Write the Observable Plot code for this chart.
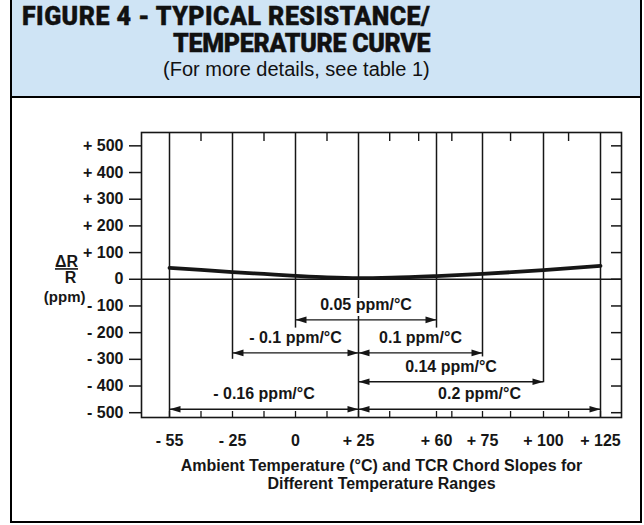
<!DOCTYPE html>
<html><head><meta charset="utf-8">
<script src="https://cdn.jsdelivr.net/npm/d3@7"></script>
<script src="https://cdn.jsdelivr.net/npm/@observablehq/plot@0.6"></script>
<style>
html,body{margin:0;padding:0;background:#fff;}
#fig{position:relative;width:644px;height:525px;overflow:hidden;font-family:"Liberation Sans",Arial,Helvetica,sans-serif;}
#titlebox{position:absolute;left:10px;top:0;width:628px;height:96px;background:#cfe4f5;border-left:2px solid #000;border-right:2px solid #000;border-bottom:2px solid #000;}
.t{position:absolute;white-space:nowrap;color:#111;}
.t1,.t2{font-family:Roboto,"Liberation Sans",sans-serif;font-weight:900;font-size:25px;line-height:25px;-webkit-text-stroke:0.4px #111;}
.t1{left:10px;top:4px;letter-spacing:0.45px;}
.t2{left:161px;top:31px;letter-spacing:-0.3px;}
.t3{left:151px;top:59px;font-size:20px;line-height:20px;font-weight:normal;}
#chart{position:absolute;left:0;top:98px;}
#box{position:absolute;left:10px;top:98px;width:628px;height:423px;border-left:2px solid #000;border-right:2px solid #000;border-bottom:2px solid #000;pointer-events:none;}
</style>
</head>
<body>
<div id="fig">
  <div id="titlebox">
    <div class="t t1">FIGURE 4 - TYPICAL RESISTANCE/</div>
    <div class="t t2">TEMPERATURE CURVE</div>
    <div class="t t3">(For more details, see table 1)</div>
  </div>
  <div id="chart"></div>
  <div id="box"></div>
</div>
<script>
// ---- data ----
const xKnots = [-55, -25, 0, 25, 60, 75, 100, 125];
const xTickLabels = ["- 55", "- 25", "0", "+ 25", "+ 60", "+ 75", "+ 100", "+ 125"];
const lineBottom = [-518, -300, -183, -518, -183, -291, -388, -518];

const yTicks = [500, 400, 300, 200, 100, 0, -100, -200, -300, -400, -500];
const yTickLabels = ["+ 500", "+ 400", "+ 300", "+ 200", "+ 100", "0", "- 100", "- 200", "- 300", "- 400", "- 500"];

const topMinorTicks = [-40, -12.5, 12.5, 39, 52, 65, 86.5, 111];
const bottomMinorTicks = [-40, -12.5, 12.5, 39, 65, 86.5, 111];

const curveT = [-55, -40, -25, -12.5, 0, 12.5, 25, 40, 60, 75, 100, 125];
const curveR = [43, 35, 27, 20, 13, 7, 4, 6, 12, 20, 34, 50];

const slopeText = ["0.05 ppm/°C", "- 0.1 ppm/°C", "0.1 ppm/°C", "0.14 ppm/°C", "- 0.16 ppm/°C", "0.2 ppm/°C"];
const slopeFrom = [0, -25, 25, 25, -55, 25];
const slopeTo = [60, 25, 75, 100, 25, 125];
const slopeRow = [-152, -276, -276, -384, -487, -487];

const axisTitle = "Ambient Temperature (°C) and TCR Chord Slopes for\nDifferent Temperature Ranges";

// ---- layout ----
const W = 644, H = 427, mL = 141, mR = 23, mT = 34, mB = 108;
const innerW = W - mL - mR, innerH = H - mT - mB;
const yDomain = [-518, 550];
// the original drawing spaces the temperatures unevenly: piecewise-linear scale
const xScaleOpts = {type: "linear", domain: xKnots, range: [169, 232, 295, 358, 436, 482, 543, 600]};
const xs = Plot.scale({x: xScaleOpts});
const mid = (a, b) => xs.invert((xs.apply(a) + xs.apply(b)) / 2);

const xLabelMap = new Map(xKnots.map((t, i) => [t, xTickLabels[i]]));
const yLabelMap = new Map(yTicks.map((v, i) => [v, yTickLabels[i]]));
const verticals = xKnots.map((t, i) => ({t, bottom: lineBottom[i]}));
const curve = curveT.map((t, i) => ({t, r: curveR[i]}));
const slopes = slopeText.map((s, i) => ({text: s, from: slopeFrom[i], to: slopeTo[i], y: slopeRow[i], mid: mid(slopeFrom[i], slopeTo[i])}));

const headR = {draw(ctx, size) { const l = Math.sqrt(size / Math.PI) * 2, w = l * 0.3; ctx.moveTo(0, 0); ctx.lineTo(-l, -w); ctx.lineTo(-l, w); ctx.closePath(); }};
const headL = {draw(ctx, size) { const l = Math.sqrt(size / Math.PI) * 2, w = l * 0.3; ctx.moveTo(0, 0); ctx.lineTo(l, -w); ctx.lineTo(l, w); ctx.closePath(); }};

const ink = "#161616";
const chart = Plot.plot({
  width: W, height: H,
  marginLeft: mL, marginRight: mR, marginTop: mT, marginBottom: mB,
  x: xScaleOpts,
  y: {domain: yDomain},
  style: {fontFamily: "'Liberation Sans', Arial, Helvetica, sans-serif", fontSize: "16px", fontWeight: "bold", color: ink, background: "transparent", overflow: "visible"},
  marks: [
    Plot.frame({stroke: ink, strokeWidth: 1.6}),
    Plot.ruleY([0], {stroke: ink, strokeWidth: 1.5}),
    Plot.axisY({anchor: "left", ticks: yTicks, tickFormat: d => yLabelMap.get(d), tickSize: 12, tickPadding: 6, label: null, strokeWidth: 1.5}),
    Plot.tickY(yTicks, {y: d => d, insetLeft: innerW - 10, stroke: ink, strokeWidth: 1.5}),
    Plot.axisX({anchor: "bottom", ticks: xKnots, tickFormat: d => xLabelMap.get(d), tickSize: 0, tickPadding: 17, label: null}),
    Plot.tickX(topMinorTicks, {x: d => d, insetBottom: innerH - 9, stroke: ink, strokeWidth: 1.4}),
    Plot.tickX(xKnots.concat(bottomMinorTicks), {x: d => d, insetTop: innerH - 6, stroke: ink, strokeWidth: 1.3}),
    Plot.ruleX(verticals, {x: "t", y1: yDomain[1], y2: "bottom", stroke: ink, strokeWidth: 1.5}),
    Plot.line(curve, {x: "t", y: "r", stroke: ink, strokeWidth: 3.8, curve: "monotone-x"}),
    Plot.ruleY(slopes, {y: "y", x1: "from", x2: "to", stroke: ink, strokeWidth: 1.3}),
    Plot.dot(slopes, {x: "from", y: "y", symbol: headL, r: 5.5, fill: ink, stroke: "none"}),
    Plot.dot(slopes, {x: "to", y: "y", symbol: headR, r: 5.5, fill: ink, stroke: "none"}),
    Plot.text(slopes, {x: "mid", y: "y", text: "text", dy: -15, fontSize: 16, fontWeight: "bold", fill: ink, stroke: "white", strokeWidth: 6}),
    Plot.text(["ΔR"], {frameAnchor: "left", textAnchor: "middle", dx: -75, dy: -13, fontSize: 16, fontWeight: "bold", fill: ink}),
    Plot.text(["R"], {frameAnchor: "left", textAnchor: "middle", dx: -71, dy: 3, fontSize: 16, fontWeight: "bold", fill: ink}),
    Plot.text(["(ppm)"], {frameAnchor: "left", textAnchor: "end", dx: -56, dy: 22, fontSize: 15, fontWeight: "bold", fill: ink}),
    Plot.text([axisTitle], {frameAnchor: "bottom", lineAnchor: "top", dy: 40, fontSize: 16, fontWeight: "bold", lineHeight: 1.15, fill: ink})
  ]
});
document.getElementById("chart").appendChild(chart);
// fraction bar under ΔR
chart.querySelectorAll("text").forEach(t => {
  if (t.textContent === "ΔR") { t.style.textDecoration = "underline"; t.style.textDecorationThickness = "1.6px"; }
});
</script>
</body></html>
